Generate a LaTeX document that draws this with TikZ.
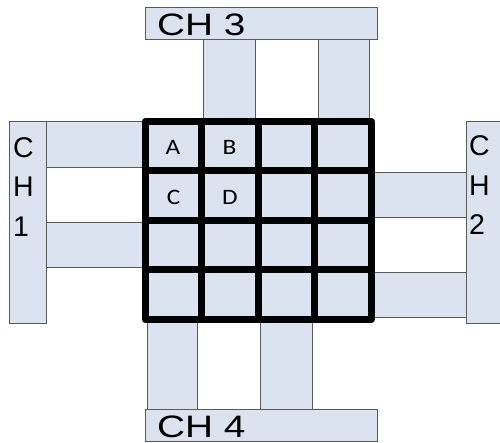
\documentclass[tikz,border=0pt]{standalone}
\usepackage{fontspec}
\newfontfamily\chfont{Liberation Sans}
\newfontfamily\cellfont{Carlito}
\definecolor{pale}{HTML}{DAE3EF}
\definecolor{edge}{HTML}{5A5A5A}
\tikzset{
  band/.style={fill=pale, draw=edge, line width=0.9pt},
  chbox/.style={fill=pale, draw=edge, line width=0.9pt},
  hlabel/.style={anchor=base west, inner sep=0pt, font=\chfont\fontsize{31}{30}\selectfont},
  vlabel/.style={anchor=north west, inner sep=0pt, align=left, font=\chfont\fontsize{28.5}{39.5}\selectfont},
  celllabel/.style={inner sep=0pt, font=\cellfont\fontsize{22}{22}\selectfont},
}
\begin{document}
\begin{tikzpicture}[x=1pt,y=-1pt]
\useasboundingbox (0,0) rectangle (500,443);
\clip (0,0) rectangle (500,443);
% channel boxes
\draw[chbox] (145,7) rectangle (377,39);
\draw[chbox] (9,121) rectangle (46,323);
\draw[chbox] (466,121) rectangle (506,323);
\draw[chbox] (145,409) rectangle (377,441);
% bands
\draw[band] (203,39) rectangle (255,121.5);
\draw[band] (318,39) rectangle (369,121.5);
\draw[band] (46,121) rectangle (145,167);
\draw[band] (46,222) rectangle (145,267);
\draw[band] (371,172) rectangle (466,217);
\draw[band] (371,272) rectangle (466,317);
\draw[band] (147,319.5) rectangle (197,409);
\draw[band] (260,319.5) rectangle (312,409);
% grid
\fill[pale] (145,121.5) rectangle (371,319.5);
\draw[line width=7pt, line join=round] (145,121.5) rectangle (371,319.5);
\foreach \x in {201.5,258,314.5} \draw[line width=7pt] (\x,121.5) -- (\x,319.5);
\foreach \y in {171,220.5,270} \draw[line width=7pt] (145,\y) -- (371,\y);
% labels
\node[hlabel] (ch3) at (157,36) {\scalebox{1.25}[1]{CH 3}};
\node[hlabel] (ch4) at (157,437) {\scalebox{1.25}[1]{CH 4}};
\node[vlabel] (ch1) at (13,137) {C\\H\\1};
\node[vlabel] (ch2) at (469,135.5) {C\\H\\2};
\node[celllabel] (a) at (173,147) {\scalebox{1.15}[1]{A}};
\node[celllabel] (b) at (229.5,147) {\scalebox{1.15}[1]{B}};
\node[celllabel] (c) at (173.5,197) {\scalebox{1.15}[1]{C}};
\node[celllabel] (d) at (230,197) {\scalebox{1.15}[1]{D}};
\end{tikzpicture}
\end{document}
